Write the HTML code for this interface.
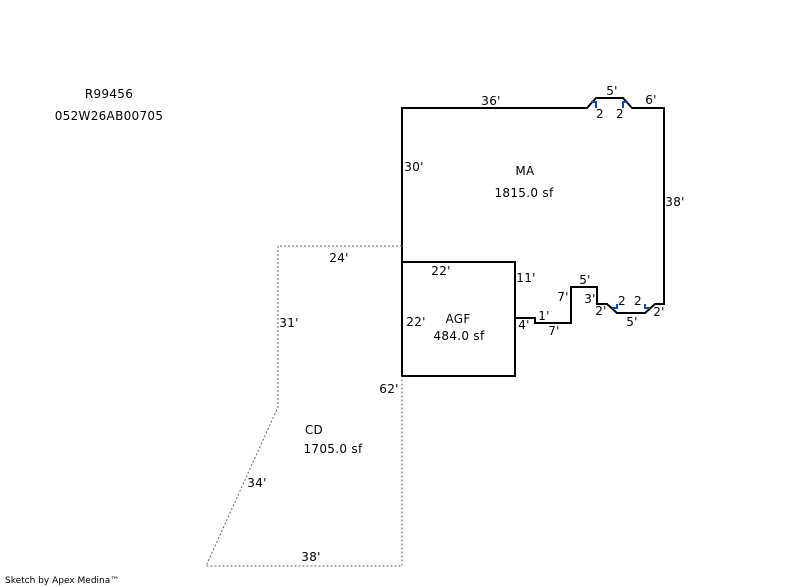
<!DOCTYPE html>
<html><head><style>
html,body{margin:0;padding:0;background:#fff;width:800px;height:587px;overflow:hidden}
svg text{font-family:"DejaVu Sans","Liberation Sans",sans-serif;font-size:12px;letter-spacing:0.3px;fill:#000}
</style></head><body>
<svg width="800" height="587" viewBox="0 0 800 587" xmlns="http://www.w3.org/2000/svg">
<g fill="none" stroke="#000" stroke-width="2">
<polyline points="402,262 402,108 587,108 596,98 623,98 632,108 664,108 664,304 655,304 645,313 617,313 607,304 597,304 597,287 571,287 571,323 535,323 535,318 515,318"/>
<rect x="402" y="262" width="113" height="114"/>
</g>
<g fill="none" stroke="#666" stroke-width="1" stroke-dasharray="2,2">
<polyline points="402,246 278,246 278,407 206,566 402,566 402,376"/>
</g>
<g fill="none" stroke="#1a4a9a" stroke-width="2">
<polyline points="591,102 596,102 596,108"/>
<polyline points="628,102 623,102 623,108"/>
<polyline points="612,308 617,308 617,304"/>
<polyline points="650,308 645,308 645,304"/>
</g>
<text x="109" y="98" text-anchor="middle">R99456</text>
<text x="109" y="120" text-anchor="middle">052W26AB00705</text>
<text x="491" y="105" text-anchor="middle">36'</text>
<text x="612" y="95" text-anchor="middle">5'</text>
<text x="651" y="104" text-anchor="middle">6'</text>
<text x="600" y="118" text-anchor="middle">2</text>
<text x="620" y="118" text-anchor="middle">2</text>
<text x="414" y="171" text-anchor="middle">30'</text>
<text x="525" y="175" text-anchor="middle">MA</text>
<text x="524" y="197" text-anchor="middle">1815.0 sf</text>
<text x="675" y="206" text-anchor="middle">38'</text>
<text x="339" y="262" text-anchor="middle">24'</text>
<text x="441" y="275" text-anchor="middle">22'</text>
<text x="526" y="282" text-anchor="middle">11'</text>
<text x="585" y="284" text-anchor="middle">5'</text>
<text x="563" y="301" text-anchor="middle">7'</text>
<text x="590" y="303" text-anchor="middle">3'</text>
<text x="622" y="305" text-anchor="middle">2</text>
<text x="638" y="305" text-anchor="middle">2</text>
<text x="601" y="315" text-anchor="middle">2'</text>
<text x="659" y="316" text-anchor="middle">2'</text>
<text x="632" y="326" text-anchor="middle">5'</text>
<text x="544" y="320" text-anchor="middle">1'</text>
<text x="524" y="329" text-anchor="middle">4'</text>
<text x="554" y="335" text-anchor="middle">7'</text>
<text x="289" y="327" text-anchor="middle">31'</text>
<text x="416" y="326" text-anchor="middle">22'</text>
<text x="458" y="323" text-anchor="middle">AGF</text>
<text x="459" y="340" text-anchor="middle">484.0 sf</text>
<text x="389" y="393" text-anchor="middle">62'</text>
<text x="314" y="434" text-anchor="middle">CD</text>
<text x="333" y="453" text-anchor="middle">1705.0 sf</text>
<text x="257" y="487" text-anchor="middle">34'</text>
<text x="311" y="561" text-anchor="middle">38'</text>
<text x="5" y="583" style="font-size:9px;letter-spacing:0">Sketch by Apex Medina™</text>
</svg>
</body></html>
